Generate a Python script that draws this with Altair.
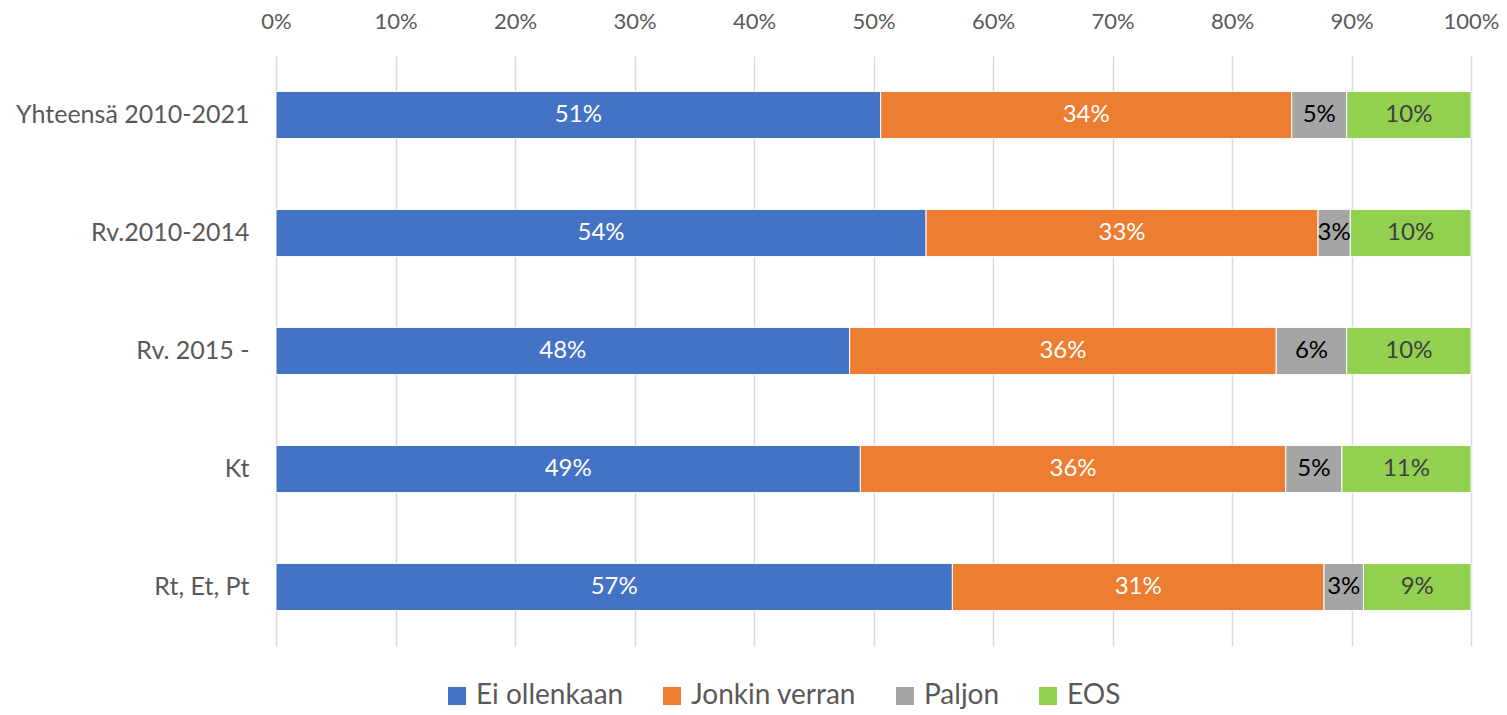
import altair as alt
import pandas as pd

groups = ["Yhteensä 2010-2021", "Rv.2010-2014", "Rv. 2015 -", "Kt", "Rt, Et, Pt"]
categories = ["Ei ollenkaan", "Jonkin verran", "Paljon", "EOS"]
ei_ollenkaan = [0.506, 0.544, 0.480, 0.489, 0.566]
jonkin_verran = [0.344, 0.328, 0.357, 0.356, 0.311]
paljon = [0.046, 0.027, 0.059, 0.047, 0.033]
eos = [0.104, 0.101, 0.104, 0.108, 0.090]

colors = ["#4472C4", "#ED7D31", "#A5A5A5", "#92D050"]
FONT = "Lato"
GRAY = "#595959"

rows = []
for ci, (cat, vals) in enumerate(zip(categories, [ei_ollenkaan, jonkin_verran, paljon, eos])):
    for g, v in zip(groups, vals):
        rows.append({"group": g, "cat": cat, "order": ci, "value": v})
df = pd.DataFrame(rows)

base = alt.Chart(df).transform_stack(
    stack="value", groupby=["group"], as_=["x0", "x1"],
    sort=[alt.SortField("order", order="ascending")]
)

y_enc = alt.Y("group:N", sort=groups, title=None,
              scale=alt.Scale(paddingInner=0.6, paddingOuter=0.3),
              axis=alt.Axis(labelFontSize=25, labelColor=GRAY, labelFont=FONT,
                            ticks=False, domain=False, labelPadding=27, grid=False,
                            labelLimit=400))

bars = base.mark_bar(stroke="white", strokeWidth=1).encode(
    x=alt.X("x0:Q", title=None,
            scale=alt.Scale(domain=[0, 1], nice=False, zero=True),
            axis=alt.Axis(orient="top", format=".0%", values=[i / 10 for i in range(11)],
                          labelFontSize=22, labelColor=GRAY, labelFont=FONT,
                          ticks=False, domain=False, labelPadding=23, labelFlush=False,
                          grid=True, gridColor="#D9D9D9", gridWidth=1.5)),
    x2="x1:Q",
    y=y_enc,
    color=alt.Color("cat:N", sort=categories, title=None,
                    scale=alt.Scale(domain=categories, range=colors),
                    legend=alt.Legend(orient="none", direction="horizontal",
                                      legendX=167, legendY=626,
                                      labelFontSize=28, labelColor=GRAY, labelFont=FONT,
                                      labelLimit=400,
                                      symbolType="square", symbolSize=324,
                                      symbolStrokeWidth=0, columnPadding=34,
                                      labelOffset=5)),
)

labels = base.transform_calculate(
    mid="(datum.x0 + datum.x1) / 2",
    tc="datum.order <= 1 ? 'white' : (datum.order == 2 ? '#000000' : '#404040')",
).mark_text(fontSize=24, font=FONT, baseline="middle", align="center").encode(
    x=alt.X("mid:Q"),
    y=alt.Y("group:N", sort=groups),
    text=alt.Text("value:Q", format=".0%"),
    color=alt.Color("tc:N", scale=None),
)

chart = alt.layer(bars, labels).properties(
    width=1195, height=590,
    autosize=alt.AutoSizeParams(type="none"),
    padding={"left": 268, "top": 48, "right": 28, "bottom": 69},
).configure_view(stroke=None)

chart.save("out.html", embed_options={"renderer": "svg", "actions": False})
